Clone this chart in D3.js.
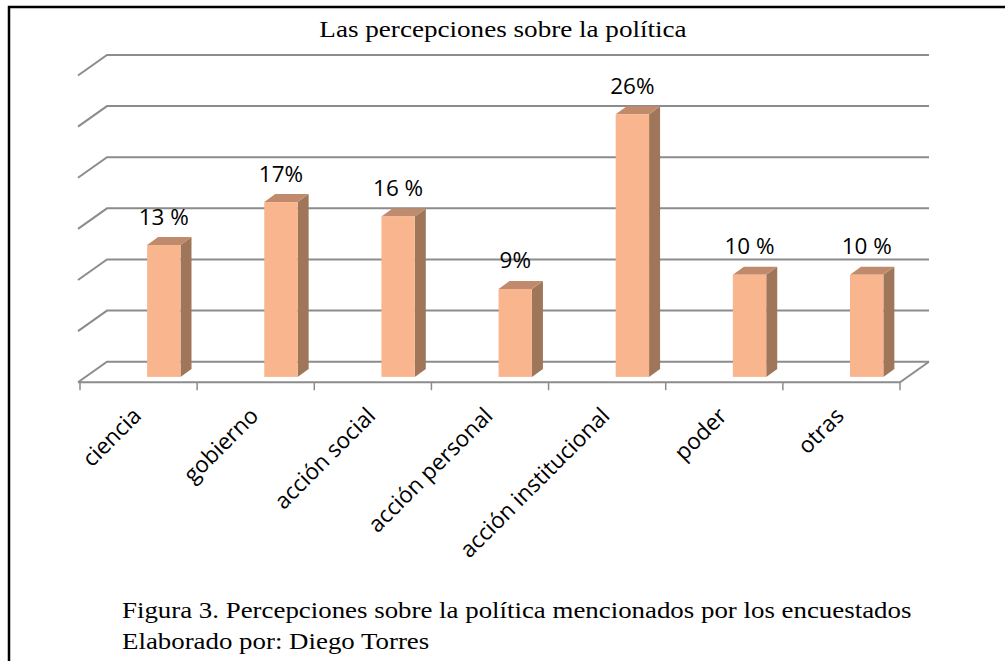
<!DOCTYPE html>
<html>
<head>
<meta charset="utf-8">
<script src="https://cdn.jsdelivr.net/npm/d3@7"></script>
<style>
  html, body { margin: 0; padding: 0; background: #fff; }
  svg { display: block; }
</style>
</head>
<body>
<svg id="chart" width="1005" height="661"></svg>
<script>
// ---- data ----
const categories = ["ciencia", "gobierno", "acción social", "acción personal", "acción institucional", "poder", "otras"];
const values = [12.9, 17.1, 15.7, 8.6, 25.7, 10.0, 10.0];
const valueLabels = ["13 %", "17%", "16 %", "9%", "26%", "10 %", "10 %"];
const gridTicks = [0, 5, 10, 15, 20, 25, 30];
const title = "Las percepciones sobre la política";
const captionLines = ["Figura 3. Percepciones sobre la política mencionados por los encuestados", "Elaborado por: Diego Torres"];

// ---- layout ----
const svg = d3.select("#chart");
const DX = 29, DY = 20.5;
const frontX0 = 79, frontX1 = 900;
const x = d3.scaleBand().domain(categories).range([frontX0 + 1, frontX1]).paddingInner(0).paddingOuter(0);
const yWall = d3.scaleLinear().domain([0, 30]).range([361.7, 55]);
const barDepthFront = 5.3;
const frontOffset = DY - barDepthFront;
const yFront = v => yWall(v) + frontOffset;
const barW = x.bandwidth() * 0.285;
const barOff = x.bandwidth() * 0.573;
const sideDX = 11, sideDY = 8;

// border
svg.append("rect").attr("x", 9).attr("y", 7).attr("width", 1100).attr("height", 800)
  .attr("fill", "none").attr("stroke", "#000").attr("stroke-width", 2.5);

// title
svg.append("text").attr("transform", "translate(503,37) scale(1.13,1)").attr("text-anchor", "middle")
  .attr("font-family", "Liberation Serif, Times New Roman, serif").attr("font-size", 24)
  .attr("fill", "#000").text(title);

const gridColor = "#8c8c8c";
svg.append("g").selectAll("path").data(gridTicks).join("path")
  .attr("d", t => {
    const y = yWall(t);
    return `M${frontX0 - 1},${y + DY} L${frontX0 - 1 + DX},${y} L${frontX1 + DX},${y}`;
  })
  .attr("fill", "none").attr("stroke", gridColor).attr("stroke-width", 2);

// floor
const yb = yWall(0), yf = yWall(0) + DY;
svg.append("path")
  .attr("d", `M${frontX0 - 1},${yf} L${frontX1},${yf} L${frontX1 + DX},${yb}`)
  .attr("fill", "none").attr("stroke", gridColor).attr("stroke-width", 2);

// ticks
const tickXs = categories.map(c => x(c)).concat([frontX1]);
svg.append("g").selectAll("line").data(tickXs).join("line")
  .attr("x1", d => d).attr("x2", d => d).attr("y1", yf).attr("y2", yf + 8)
  .attr("stroke", gridColor).attr("stroke-width", 1.5);

// bars
const bars = svg.append("g").selectAll("g").data(categories).join("g");
bars.each(function (c, i) {
  const g = d3.select(this);
  const x0 = x(c) + barOff, x1 = x0 + barW;
  const yt = yFront(values[i]), y0 = yFront(0);
  g.append("path")
    .attr("d", `M${x1},${y0} L${x1},${yt} L${x1 + sideDX},${yt - sideDY} L${x1 + sideDX},${y0 - sideDY} Z`)
    .attr("fill", "#A0765B");
  g.append("path")
    .attr("d", `M${x0},${yt} L${x1},${yt} L${x1 + sideDX},${yt - sideDY} L${x0 + sideDX},${yt - sideDY} Z`)
    .attr("fill", "#C08B6D");
  g.append("rect").attr("x", x0).attr("y", yt).attr("width", barW).attr("height", y0 - yt)
    .attr("fill", "#F9B68E");
  g.append("text").attr("transform", `translate(${x0 + barW / 2},${yt - 20.5}) scale(1.07,1)`)
    .attr("text-anchor", "middle")
    .attr("font-family", "Open Sans, sans-serif").attr("font-size", 21).attr("fill", "#000")
    .text(valueLabels[i]);
});

// category labels
svg.append("g").selectAll("text").data(categories).join("text")
  .attr("transform", c => `translate(${x(c) + x.bandwidth() / 2 + 4},${yf + 35}) rotate(-45)`)
  .attr("text-anchor", "end")
  .attr("font-family", "Open Sans, sans-serif").attr("font-size", 22.5).attr("fill", "#000")
  .text(c => c);

// caption
svg.append("g").selectAll("text").data(captionLines).join("text")
  .attr("transform", (d, i) => `translate(122,${618 + i * 31}) scale(1.12,1)`)
  .attr("font-family", "Liberation Serif, Times New Roman, serif").attr("font-size", 24)
  .attr("fill", "#000").text(d => d);
</script>
</body>
</html>
